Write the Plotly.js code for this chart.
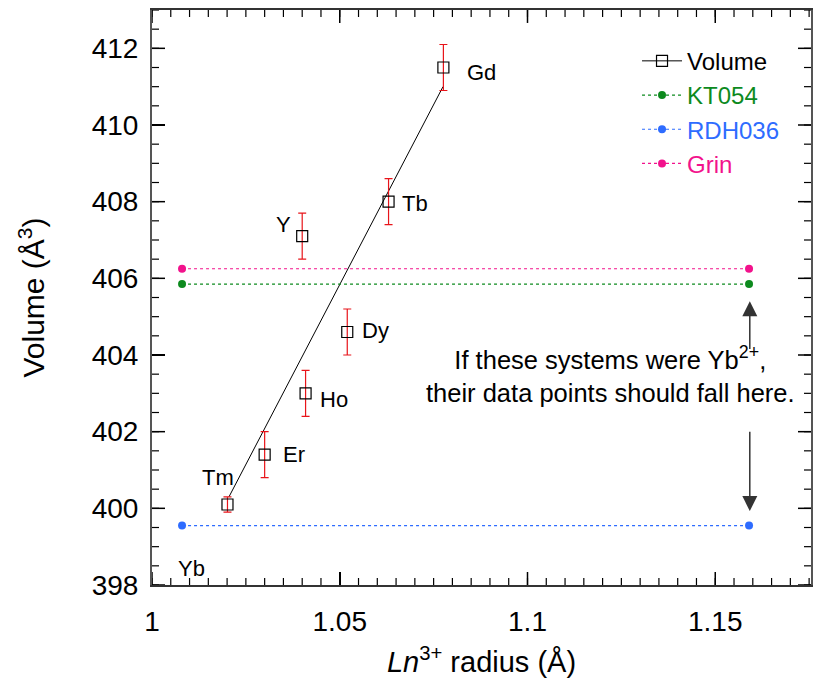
<!DOCTYPE html>
<html>
<head>
<meta charset="utf-8">
<script src="https://cdn.plot.ly/plotly-3.0.1.min.js"></script>
<style>html,body{margin:0;padding:0;background:#fff;}#chart{width:822px;height:689px;}</style>
</head>
<body>
<div id="chart"></div>
<script>
// ---- data ----
const ionNames = ['Tm', 'Er', 'Ho', 'Y', 'Dy', 'Tb', 'Gd'];
const ionRadius = [1.0201, 1.030, 1.0409, 1.040, 1.052, 1.063, 1.0776];
const cellVolume = [400.1, 401.4, 403.0, 407.1, 404.6, 408.0, 411.5];
const volumeError = [0.2, 0.6, 0.6, 0.6, 0.6, 0.6, 0.6];

const fitRadius = [1.0205, 1.0775];
const fitVolume = [400.3, 411.0];

const refRadius = [1.008, 1.159];
const kt054Volume = [405.85, 405.85];
const rdh036Volume = [399.55, 399.55];
const grinVolume = [406.25, 406.25];

const ybLabel = {text: 'Yb', x: 1.0105, y: 398.42};

// axis ranges / tick steps
const xRange = [1, 1.1755], xMajor = 0.05, xMinor = 0.005;
const yRange = [398, 413], yMajor = 2, yMinor = 0.5;

// ---- styling / layout ----
const FONT = '"Liberation Sans", Arial, sans-serif';
const GREEN = '#0d8a1e', BLUE = '#2e6cff', PINK = '#f2128c', RED = '#e8141a';
const W = 822, H = 689, M = {l: 152, r: 11, t: 8, b: 104};
const plotW = W - M.l - M.r, plotH = H - M.t - M.b;
const xPerPx = (xRange[1] - xRange[0]) / plotW;
const yPerPx = (yRange[1] - yRange[0]) / plotH;

// per-label pixel offsets (xshift, yshift)
const labelShift = {
  Tm: [-9, 27], Er: [29, 0], Ho: [28, -6], Y: [-19, 12],
  Dy: [28, 2], Tb: [26, -2], Gd: [38, -5]
};

const traces = [
  {x: fitRadius, y: fitVolume, mode: 'lines', line: {color: '#000', width: 1},
   showlegend: false, hoverinfo: 'skip'},
  {x: ionRadius, y: cellVolume, mode: 'markers', showlegend: false,
   marker: {symbol: 'square-open', size: 11, color: '#000', line: {width: 1.2, color: '#000'}},
   error_y: {type: 'data', array: volumeError, visible: true, color: RED, thickness: 1.2, width: 4}},
  {x: [null], y: [null], mode: 'lines+markers', name: 'Volume', legendgroup: 'a',
   line: {color: '#000', width: 1},
   marker: {symbol: 'square-open', size: 11, color: '#000', line: {width: 1.2, color: '#000'}}},
  {x: refRadius, y: kt054Volume, mode: 'lines+markers', legendgroup: 'b',
   name: '<span style="color:' + GREEN + '">KT054</span>',
   line: {color: GREEN, width: 1.2, dash: '3px,3px'}, marker: {color: GREEN, size: 8}},
  {x: refRadius, y: rdh036Volume, mode: 'lines+markers', legendgroup: 'c',
   name: '<span style="color:' + BLUE + '">RDH036</span>',
   line: {color: BLUE, width: 1.2, dash: '3px,3px'}, marker: {color: BLUE, size: 8}},
  {x: refRadius, y: grinVolume, mode: 'lines+markers', legendgroup: 'd',
   name: '<span style="color:' + PINK + '">Grin</span>',
   line: {color: PINK, width: 1.2, dash: '3px,3px'}, marker: {color: PINK, size: 8}}
];

const annotations = ionNames.map((n, i) => ({
  x: ionRadius[i], y: cellVolume[i], xref: 'x', yref: 'y', text: n, showarrow: false,
  xshift: labelShift[n][0], yshift: labelShift[n][1],
  font: {family: FONT, size: 22, color: '#000'}
}));
annotations.push({x: ybLabel.x, y: ybLabel.y, xref: 'x', yref: 'y', text: ybLabel.text,
  showarrow: false, font: {family: FONT, size: 22, color: '#000'}});
annotations.push({x: 1.1221, y: 403.5, xref: 'x', yref: 'y', showarrow: false,
  text: 'If these systems were Yb<sup>2+</sup>,<br>their data points should fall here.',
  align: 'center', font: {family: FONT, size: 25.5, color: '#000'}});
annotations.push({x: 1.1592, y: 405.4, ax: 1.1592, ay: 404.05, xref: 'x', yref: 'y',
  axref: 'x', ayref: 'y', showarrow: true, text: ' ', arrowhead: 2, arrowsize: 2.0,
  arrowwidth: 1.5, arrowcolor: '#333', font: {size: 4}});
annotations.push({x: 1.1592, y: 399.93, ax: 1.1592, ay: 402.1, xref: 'x', yref: 'y',
  axref: 'x', ayref: 'y', showarrow: true, text: ' ', arrowhead: 2, arrowsize: 2.0,
  arrowwidth: 1.5, arrowcolor: '#333', font: {size: 4}});

// inward tick marks on all four sides (data-unit shapes built from the axis steps)
const shapes = [];
function tickShapes(axis, lo, hi, step, lenPx, width) {
  const n = Math.round((hi - lo) / step);
  const line = {color: '#000', width: width};
  for (let i = 0; i <= n; i++) {
    const v = +(lo + i * step).toFixed(6);
    if (v > hi + 1e-9) break;
    if (axis === 'x') {
      const d = lenPx * yPerPx;
      shapes.push({type: 'line', layer: 'above', xref: 'x', yref: 'y',
        x0: v, x1: v, y0: yRange[0], y1: yRange[0] + d, line: line});
      shapes.push({type: 'line', layer: 'above', xref: 'x', yref: 'y',
        x0: v, x1: v, y0: yRange[1], y1: yRange[1] - d, line: line});
    } else {
      const d = lenPx * xPerPx;
      shapes.push({type: 'line', layer: 'above', xref: 'x', yref: 'y',
        y0: v, y1: v, x0: xRange[0], x1: xRange[0] + d, line: line});
      shapes.push({type: 'line', layer: 'above', xref: 'x', yref: 'y',
        y0: v, y1: v, x0: xRange[1], x1: xRange[1] - d, line: line});
    }
  }
}
tickShapes('x', xRange[0], xRange[1], xMinor, 7, 1.2);
tickShapes('x', xRange[0], xRange[1], xMajor, 13, 1.5);
tickShapes('y', yRange[0], yRange[1], yMinor, 7, 1.2);
tickShapes('y', yRange[0], yRange[1], yMajor, 13, 1.5);

const layout = {
  width: W, height: H,
  margin: M,
  paper_bgcolor: '#fff', plot_bgcolor: '#fff',
  font: {family: FONT, color: '#000'},
  xaxis: {
    range: xRange, tickmode: 'linear', dtick: xMajor, tick0: 1, automargin: true,
    showgrid: false, zeroline: false, showline: true, linecolor: '#333', linewidth: 2,
    mirror: true, ticks: 'inside', ticklen: 13, tickwidth: 1.5, tickcolor: '#000',
    ticklabelstandoff: 10,
    tickfont: {family: FONT, size: 28, color: '#000'},
    title: {text: '<i>Ln</i><sup>3+</sup> radius (Å)', font: {family: FONT, size: 29}, standoff: 16}
  },
  yaxis: {
    range: yRange, tickmode: 'linear', dtick: yMajor, tick0: 398, automargin: true,
    showgrid: false, zeroline: false, showline: true, linecolor: '#555', linewidth: 2,
    mirror: true, ticks: 'inside', ticklen: 13, tickwidth: 1.5, tickcolor: '#000',
    ticklabelstandoff: 6,
    tickfont: {family: FONT, size: 28, color: '#000'},
    title: {text: 'Volume (Å<sup>3</sup>)', font: {family: FONT, size: 30}, standoff: 38}
  },
  showlegend: true,
  legend: {x: 0.736, y: 0.95, xanchor: 'left', yanchor: 'top', bgcolor: 'rgba(0,0,0,0)',
    font: {family: FONT, size: 24, color: '#000'}, tracegroupgap: 0, itemwidth: 40},
  shapes: shapes,
  annotations: annotations
};

Plotly.newPlot('chart', traces, layout, {displayModeBar: false, staticPlot: true});
</script>
</body>
</html>
